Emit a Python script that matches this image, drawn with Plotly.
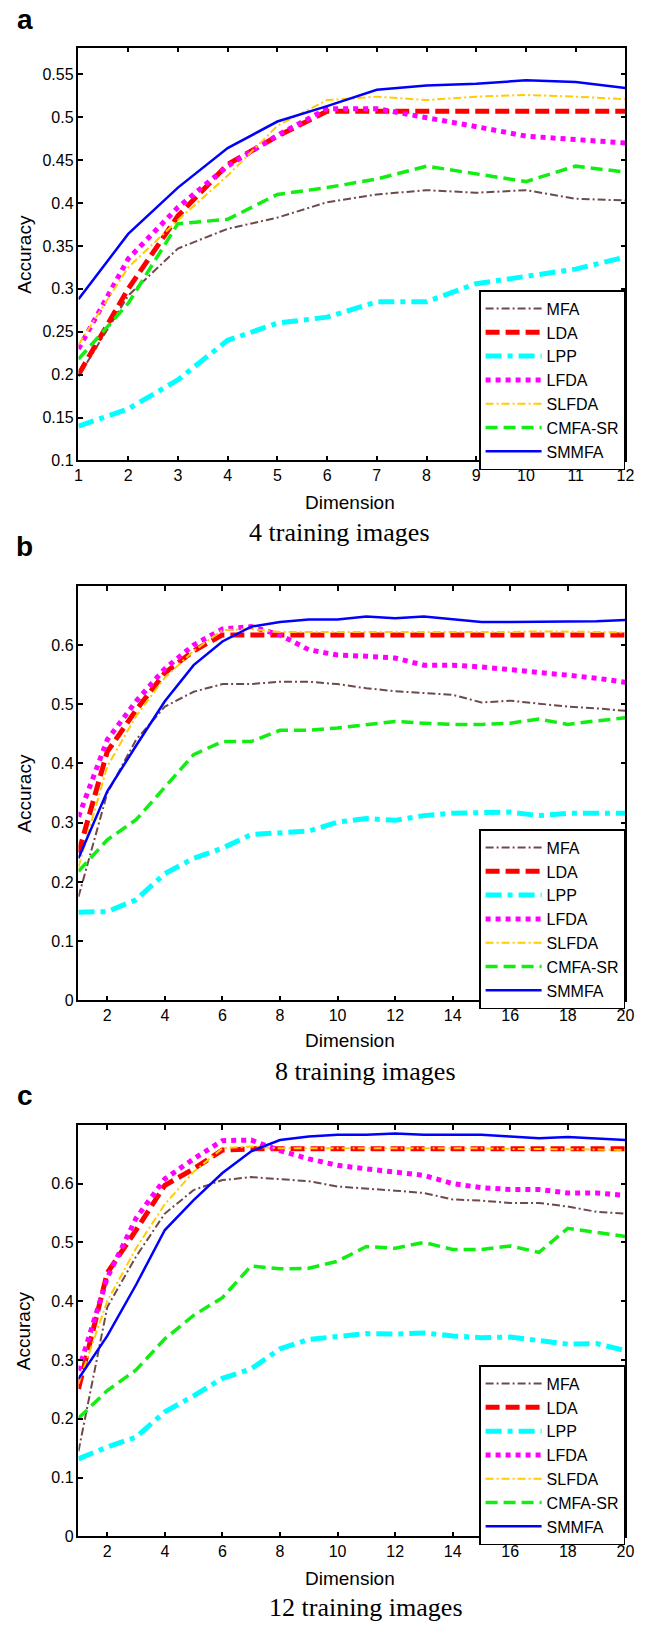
import plotly.graph_objects as go

# ---------------- data ----------------
series_names = ["MFA", "LDA", "LPP", "LFDA", "SLFDA", "CMFA-SR", "SMMFA"]

dims_a = list(range(1, 13))
a_mfa = [0.198, 0.292, 0.347, 0.370, 0.383, 0.401, 0.410, 0.415, 0.412, 0.415, 0.405, 0.403]
a_lda = [0.200, 0.300, 0.385, 0.445, 0.478, 0.507, 0.507, 0.507, 0.507, 0.507, 0.507, 0.507]
a_lpp = [0.140, 0.160, 0.194, 0.240, 0.260, 0.267, 0.285, 0.285, 0.306, 0.315, 0.323, 0.337]
a_lfda = [0.230, 0.335, 0.395, 0.443, 0.479, 0.510, 0.510, 0.500, 0.489, 0.478, 0.474, 0.470]
a_slfda = [0.235, 0.325, 0.380, 0.432, 0.490, 0.520, 0.524, 0.520, 0.524, 0.526, 0.524, 0.521]
a_cmfa = [0.218, 0.283, 0.376, 0.381, 0.410, 0.418, 0.428, 0.443, 0.434, 0.425, 0.443, 0.436]
a_smmfa = [0.288, 0.364, 0.418, 0.464, 0.495, 0.513, 0.532, 0.537, 0.539, 0.543, 0.541, 0.534]

dims_bc = list(range(1, 21))
b_mfa = [0.175, 0.350, 0.440, 0.496, 0.521, 0.534, 0.534, 0.538, 0.538, 0.534,
         0.527, 0.522, 0.519, 0.516, 0.503, 0.506, 0.501, 0.496, 0.493, 0.489]
b_lda = [0.249, 0.420, 0.490, 0.553, 0.590, 0.617, 0.617, 0.617, 0.617, 0.617,
         0.617, 0.617, 0.617, 0.617, 0.617, 0.617, 0.617, 0.617, 0.617, 0.617]
b_lpp = [0.149, 0.150, 0.170, 0.214, 0.240, 0.257, 0.280, 0.282, 0.286, 0.301,
         0.307, 0.304, 0.312, 0.316, 0.316, 0.318, 0.312, 0.316, 0.316, 0.316]
b_lfda = [0.310, 0.440, 0.505, 0.560, 0.600, 0.627, 0.631, 0.617, 0.592, 0.583,
          0.581, 0.578, 0.566, 0.566, 0.563, 0.559, 0.555, 0.549, 0.544, 0.537]
b_slfda = [0.225, 0.395, 0.480, 0.545, 0.590, 0.625, 0.627, 0.622, 0.622, 0.622,
           0.622, 0.622, 0.621, 0.622, 0.622, 0.622, 0.623, 0.623, 0.622, 0.621]
b_cmfa = [0.218, 0.271, 0.305, 0.361, 0.415, 0.437, 0.437, 0.456, 0.456, 0.460,
          0.466, 0.471, 0.468, 0.466, 0.466, 0.468, 0.475, 0.466, 0.472, 0.477]
b_smmfa = [0.240, 0.353, 0.430, 0.505, 0.566, 0.606, 0.631, 0.639, 0.643, 0.643,
           0.648, 0.645, 0.648, 0.643, 0.639, 0.639, 0.639, 0.639, 0.640, 0.642]

c_mfa = [0.145, 0.390, 0.476, 0.549, 0.589, 0.606, 0.611, 0.608, 0.604, 0.595,
         0.592, 0.588, 0.584, 0.573, 0.571, 0.567, 0.567, 0.561, 0.552, 0.549]
c_lda = [0.251, 0.448, 0.521, 0.597, 0.625, 0.657, 0.659, 0.659, 0.659, 0.659,
         0.659, 0.659, 0.659, 0.659, 0.659, 0.659, 0.659, 0.659, 0.659, 0.659]
c_lpp = [0.132, 0.152, 0.169, 0.212, 0.239, 0.269, 0.285, 0.319, 0.335, 0.340,
         0.345, 0.344, 0.346, 0.341, 0.338, 0.339, 0.332, 0.327, 0.328, 0.316]
c_lfda = [0.282, 0.440, 0.541, 0.608, 0.642, 0.673, 0.674, 0.656, 0.642, 0.631,
          0.625, 0.620, 0.614, 0.600, 0.593, 0.590, 0.590, 0.584, 0.584, 0.580]
c_slfda = [0.260, 0.400, 0.490, 0.565, 0.620, 0.660, 0.663, 0.660, 0.660, 0.660,
           0.660, 0.661, 0.660, 0.660, 0.660, 0.659, 0.659, 0.658, 0.658, 0.657]
c_cmfa = [0.201, 0.248, 0.283, 0.336, 0.376, 0.406, 0.460, 0.455, 0.456, 0.468,
          0.493, 0.490, 0.500, 0.488, 0.488, 0.494, 0.483, 0.524, 0.517, 0.510]
c_smmfa = [0.268, 0.341, 0.428, 0.521, 0.572, 0.618, 0.655, 0.674, 0.680, 0.683,
           0.683, 0.685, 0.683, 0.683, 0.683, 0.680, 0.677, 0.679, 0.677, 0.674]

xticks_a = list(range(1, 13))
xticks_bc = list(range(2, 21, 2))
yticks_a = [0.1, 0.15, 0.2, 0.25, 0.3, 0.35, 0.4, 0.45, 0.5, 0.55]
yticktext_a = ["0.1", "0.15", "0.2", "0.25", "0.3", "0.35", "0.4", "0.45", "0.5", "0.55"]
yticks_bc = [0, 0.1, 0.2, 0.3, 0.4, 0.5, 0.6]
yticktext_bc = ["0", "0.1", "0.2", "0.3", "0.4", "0.5", "0.6"]

panel_letters = ["a", "b", "c"]
captions = ["4 training images", "8 training images", "12 training images"]

# ---------------- styles ----------------
styles = {
    "MFA": dict(color="#6e4a4a", width=2, dash="8px,3px,2px,3px"),
    "LDA": dict(color="#ff0000", width=5, dash="14px,6px"),
    "LPP": dict(color="#00ffff", width=5, dash="16px,6px,5px,6px"),
    "LFDA": dict(color="#ff00ff", width=5, dash="5px,5px"),
    "SLFDA": dict(color="#ffcc00", width=2, dash="8px,3px,2px,3px"),
    "CMFA-SR": dict(color="#11ee11", width=3.5, dash="12px,6px"),
    "SMMFA": dict(color="#0000ff", width=2.5, dash="solid"),
}

W, H = 654, 1632
x0, x1 = 76, 634
panels = [
    dict(top=48, bot=463, x=dims_a, data=[a_mfa, a_lda, a_lpp, a_lfda, a_slfda, a_cmfa, a_smmfa],
         yr=[0.1, 0.581], yt=yticks_a, ytt=yticktext_a, xr=[1, 12], xt=xticks_a,
         letter_y=20, leg_top=292, dim_y=505, cap_y=535, cap_x=342),
    dict(top=589, bot=1006, x=dims_bc, data=[b_mfa, b_lda, b_lpp, b_lfda, b_slfda, b_cmfa, b_smmfa],
         yr=[0, 0.70], yt=yticks_bc, ytt=yticktext_bc, xr=[1, 20], xt=xticks_bc,
         letter_y=550, leg_top=834, dim_y=1046, cap_y=1077, cap_x=369),
    dict(top=1131, bot=1545, x=dims_bc, data=[c_mfa, c_lda, c_lpp, c_lfda, c_slfda, c_cmfa, c_smmfa],
         yr=[0, 0.70], yt=yticks_bc, ytt=yticktext_bc, xr=[1, 20], xt=xticks_bc,
         letter_y=1102, leg_top=1373, dim_y=1587, cap_y=1616, cap_x=369),
]

SANS = "Liberation Sans, Arial, Helvetica, sans-serif"
SERIF = "Liberation Serif, Times New Roman, serif"

fig = go.Figure()
layout = dict(
    width=W, height=H, margin=dict(l=0, r=0, t=0, b=0),
    paper_bgcolor="white", plot_bgcolor="white",
    font=dict(family=SANS, size=16, color="black"),
    annotations=[],
)

for i, p in enumerate(panels):
    sfx = "" if i == 0 else str(i + 1)
    xa, ya = "x" + sfx, "y" + sfx
    leg = "legend" + sfx
    for name, vals in zip(series_names, p["data"]):
        fig.add_trace(go.Scatter(
            x=p["x"], y=vals, mode="lines", name=name,
            line=styles[name], xaxis=xa, yaxis=ya, legend=leg,
        ))
    axis_common = dict(showgrid=False, zeroline=False, showline=True, linecolor="black",
                       linewidth=1.5, mirror="ticks", ticks="inside", ticklen=5,
                       tickwidth=1.5, tickcolor="black",
                       tickfont=dict(family=SANS, size=16, color="black"))
    layout["xaxis" + sfx] = dict(axis_common, domain=[x0 / W, x1 / W], range=p["xr"],
                                 tickvals=p["xt"], anchor=ya)
    layout["yaxis" + sfx] = dict(axis_common, domain=[1 - p["bot"] / H, 1 - p["top"] / H],
                                 range=p["yr"], tickvals=p["yt"], ticktext=p["ytt"], anchor=xa)
    layout[leg] = dict(x=x1 / W, y=1 - p["leg_top"] / H, xanchor="right", yanchor="top",
                       bgcolor="white", bordercolor="black", borderwidth=1.2,
                       font=dict(family=SANS, size=16, color="black"), itemwidth=56,
                       tracegroupgap=0)
    # texts
    layout["annotations"] += [
        dict(text="<b>" + panel_letters[i] + "</b>", x=21 / W, y=1 - p["letter_y"] / H,
             xref="paper", yref="paper", showarrow=False, xanchor="center", yanchor="middle",
             font=dict(family=SANS, size=28, color="black")),
        dict(text="Accuracy", x=20 / W, y=1 - (p["top"] + p["bot"]) / 2 / H, textangle=-90,
             xref="paper", yref="paper", showarrow=False, xanchor="center", yanchor="middle",
             font=dict(family=SANS, size=19, color="black")),
        dict(text="Dimension", x=353 / W, y=1 - p["dim_y"] / H,
             xref="paper", yref="paper", showarrow=False, xanchor="center", yanchor="middle",
             font=dict(family=SANS, size=19, color="black")),
        dict(text=captions[i], x=p["cap_x"] / W, y=1 - p["cap_y"] / H,
             xref="paper", yref="paper", showarrow=False, xanchor="center", yanchor="middle",
             font=dict(family=SERIF, size=26, color="black")),
    ]

fig.update_layout(**layout)
fig.write_html("out.html")
